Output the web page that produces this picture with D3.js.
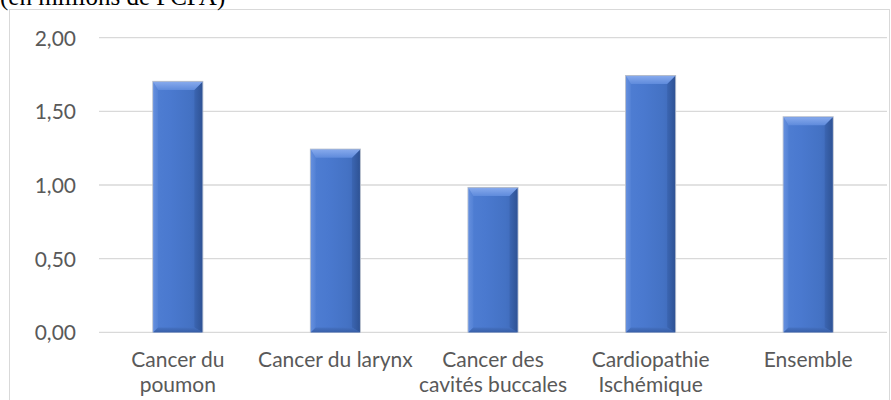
<!DOCTYPE html>
<html>
<head>
<meta charset="utf-8">
<script src="https://cdn.jsdelivr.net/npm/d3@7"></script>
<style>
  html, body { margin: 0; padding: 0; background: #fff; }
  svg { display: block; }
</style>
</head>
<body>
<svg id="chart" width="891" height="400"></svg>
<script>
const categories = [
  ["Cancer du", "poumon"],
  ["Cancer du larynx"],
  ["Cancer des", "cavités buccales"],
  ["Cardiopathie", "Ischémique"],
  ["Ensemble"]
];
const values = [1.70, 1.24, 0.98, 1.74, 1.46];
const yTicks = [0, 0.5, 1.0, 1.5, 2.0];
const titleText = "(en millions de FCFA)";

const svg = d3.select("#chart");
const plot = { left: 99, right: 887, top: 37.7, bottom: 332.3 };

// outer chart border
svg.append("rect")
  .attr("x", 9.5).attr("y", 9.5)
  .attr("width", 880).attr("height", 400)
  .attr("fill", "none").attr("stroke", "#d9d9d9").attr("stroke-width", 1);

// title (partially cut at top, as in the reference)
svg.append("text")
  .attr("x", 0).attr("y", 5)
  .attr("font-family", "'Liberation Serif', 'Times New Roman', serif")
  .attr("font-size", 25)
  .attr("fill", "#000")
  .text(titleText);

const x = d3.scaleBand()
  .domain(d3.range(categories.length))
  .range([plot.left, plot.right])
  .paddingInner(0.689)
  .paddingOuter(0.3445);

const y = d3.scaleLinear()
  .domain([0, 2])
  .range([plot.bottom, plot.top]);

// gridlines
svg.append("g")
  .selectAll("line")
  .data(yTicks)
  .join("line")
  .attr("x1", plot.left).attr("x2", plot.right)
  .attr("y1", d => y(d)).attr("y2", d => y(d))
  .attr("stroke", "#d9d9d9").attr("stroke-width", 1.3);

// y axis labels
const yAxis = d3.axisLeft(y)
  .tickValues(yTicks)
  .tickSize(0)
  .tickPadding(0)
  .tickFormat(d => d3.format(".2f")(d).replace(".", ","));
const yg = svg.append("g")
  .attr("transform", `translate(76,0)`)
  .call(yAxis);
yg.select(".domain").remove();
yg.selectAll("text")
  .attr("font-family", "Lato, 'Open Sans', sans-serif")
  .attr("font-size", 21)
  .attr("fill", "#595959")
  .attr("dy", "0.36em");

// gradients
const defs = svg.append("defs");
function lg(id, x1, y1, x2, y2, stops) {
  const g = defs.append("linearGradient").attr("id", id)
    .attr("x1", x1).attr("y1", y1).attr("x2", x2).attr("y2", y2);
  stops.forEach(s => g.append("stop").attr("offset", s[0]).attr("stop-color", s[1]));
}
lg("face", "0", "0", "1", "0", [[0, "#4f7ed3"], [0.35, "#4a79cf"], [0.75, "#4472c4"], [1, "#3d67b5"]]);
lg("topB", "0", "0", "0", "1", [[0, "#86a9ec"], [1, "#5f8bdc"]]);
lg("rightB", "0", "0", "1", "0", [[0, "#3a64b0"], [1, "#2c4f8f"]]);
lg("leftB", "0", "0", "1", "0", [[0, "#6a93e0"], [1, "#5583d6"]]);
lg("botB", "0", "0", "0", "1", [[0, "#4470c0"], [1, "#34599e"]]);

const bev = 8;
const bars = svg.append("g").selectAll("g")
  .data(values)
  .join("g");

bars.each(function(v, i) {
  const g = d3.select(this);
  const x0 = x(i), w = x.bandwidth(), x1 = x0 + w;
  const t = y(v), b = y(0);
  g.append("rect").attr("x", x0 - 0.5).attr("y", t - 0.5)
    .attr("width", w + 1).attr("height", b - t + 0.5)
    .attr("fill", "none").attr("stroke", "#b4bccb").attr("stroke-width", 1);
  g.append("rect").attr("x", x0).attr("y", t)
    .attr("width", w).attr("height", b - t).attr("fill", "url(#face)");
  g.append("polygon")
    .attr("points", [[x0, t], [x0 + bev * 0.6, t + bev], [x0 + bev * 0.6, b - bev * 0.6], [x0, b]].join(" "))
    .attr("fill", "url(#leftB)").attr("opacity", 0.8);
  g.append("polygon")
    .attr("points", [[x1, t], [x1 - bev, t + bev], [x1 - bev, b - bev * 0.6], [x1, b]].join(" "))
    .attr("fill", "url(#rightB)").attr("opacity", 0.85);
  g.append("polygon")
    .attr("points", [[x0, b], [x0 + bev * 0.6, b - bev * 0.6], [x1 - bev, b - bev * 0.6], [x1, b]].join(" "))
    .attr("fill", "url(#botB)").attr("opacity", 0.8);
  g.append("polygon")
    .attr("points", [[x0, t], [x1, t], [x1 - bev, t + bev], [x0 + bev * 0.6, t + bev]].join(" "))
    .attr("fill", "url(#topB)");
});

// category labels
const xl = svg.append("g");
categories.forEach((lines, i) => {
  const cx = x(i) + x.bandwidth() / 2;
  const txt = xl.append("text")
    .attr("x", cx).attr("y", 366.7)
    .attr("text-anchor", "middle")
    .attr("font-family", "Lato, 'Open Sans', sans-serif")
    .attr("font-size", 21)
    .attr("fill", "#595959");
  lines.forEach((ln, k) => {
    txt.append("tspan").attr("x", cx).attr("dy", k === 0 ? 0 : 25).text(ln);
  });
});
</script>
</body>
</html>
